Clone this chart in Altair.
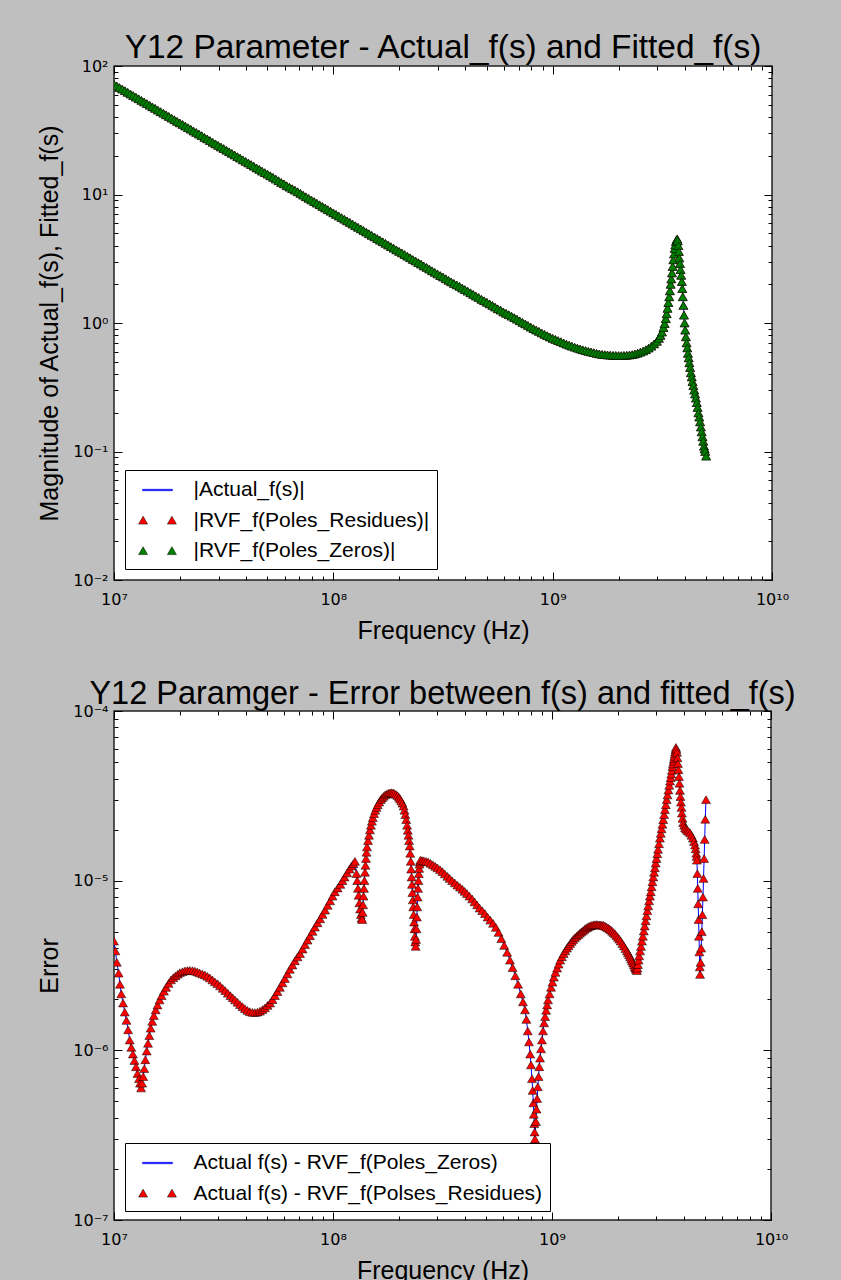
import json

import altair as alt
import pandas as pd

# ---------------------------------------------------------------------------
# Y12 magnitude panel: (frequency in MHz, |Y12|) readings
# ---------------------------------------------------------------------------
MAG_10_100MHZ = [
    (10.0, 72.0), (10.29, 70.0), (10.59, 68.0), (10.9, 66.1), (11.22, 64.2),
    (11.55, 62.4), (11.89, 60.6), (12.23, 58.9), (12.59, 57.2), (12.96, 55.6),
    (13.34, 54.0), (13.72, 52.5), (14.13, 51.0), (14.54, 49.5), (14.96, 48.1),
    (15.4, 46.8), (15.85, 45.4), (16.31, 44.1), (16.79, 42.9), (17.28, 41.7),
    (17.78, 40.5), (18.3, 39.3), (18.84, 38.2), (19.39, 37.1), (19.95, 36.1),
    (20.54, 35.1), (21.13, 34.1), (21.75, 33.1), (22.39, 32.2), (23.04, 31.2),
    (23.71, 30.4), (24.41, 29.5), (25.12, 28.7), (25.85, 27.8), (26.61, 27.1),
    (27.38, 26.3), (28.18, 25.5), (29.01, 24.8), (29.85, 24.1), (30.73, 23.4),
    (31.62, 22.8), (32.55, 22.1), (33.5, 21.5), (34.47, 20.9), (35.48, 20.3),
    (36.52, 19.7), (37.58, 19.2), (38.68, 18.6), (39.81, 18.1), (40.97, 17.6),
    (42.17, 17.1), (43.4, 16.6), (44.67, 16.1), (45.97, 15.7), (47.32, 15.2),
    (48.7, 14.8), (50.12, 14.4), (51.58, 14.0), (53.09, 13.6), (54.64, 13.2),
    (56.23, 12.8), (57.88, 12.4), (59.57, 12.1), (61.31, 11.7), (63.1, 11.4),
    (64.94, 11.1), (66.83, 10.8), (68.79, 10.5), (70.79, 10.2), (72.86, 9.88),
    (74.99, 9.6), (77.18, 9.33), (79.43, 9.06), (81.75, 8.81), (84.14, 8.56),
    (86.6, 8.32), (89.13, 8.08), (91.73, 7.85), (94.41, 7.62), (97.16, 7.41),
]
MAG_100_1000MHZ = [
    (100.0, 7.2), (102.9, 7.0), (105.9, 6.8), (109.0, 6.61), (112.2, 6.42),
    (115.5, 6.24), (118.9, 6.06), (122.3, 5.89), (125.9, 5.72), (129.6, 5.56),
    (133.4, 5.4), (137.2, 5.25), (141.3, 5.1), (145.4, 4.95), (149.6, 4.81),
    (154.0, 4.68), (158.5, 4.54), (163.1, 4.41), (167.9, 4.29), (172.8, 4.17),
    (177.8, 4.05), (183.0, 3.93), (188.4, 3.82), (193.9, 3.71), (199.5, 3.61),
    (205.4, 3.51), (211.3, 3.41), (217.5, 3.31), (223.9, 3.22), (230.4, 3.12),
    (237.1, 3.04), (244.1, 2.95), (251.2, 2.87), (258.5, 2.78), (266.1, 2.71),
    (273.8, 2.63), (281.8, 2.55), (290.1, 2.48), (298.5, 2.41), (307.3, 2.34),
    (316.2, 2.28), (325.5, 2.21), (335.0, 2.15), (344.7, 2.09), (354.8, 2.03),
    (365.2, 1.98), (375.8, 1.93), (386.8, 1.87), (398.1, 1.82), (409.7, 1.77),
    (421.7, 1.72), (434.0, 1.67), (446.7, 1.62), (459.7, 1.58), (473.2, 1.53),
    (487.0, 1.49), (501.2, 1.45), (515.8, 1.41), (530.9, 1.37), (546.4, 1.33),
    (562.3, 1.29), (578.8, 1.26), (595.7, 1.22), (613.1, 1.19), (631.0, 1.16),
    (649.4, 1.13), (668.3, 1.10), (687.9, 1.07), (707.9, 1.04), (728.6, 1.01),
    (749.9, 0.985), (771.8, 0.957), (794.3, 0.929), (817.5, 0.905), (841.4, 0.882),
    (866.0, 0.86), (891.3, 0.838), (917.3, 0.817), (944.1, 0.797), (971.6, 0.778),
]
MAG_1_3GHZ = [
    (1000, 0.76), (1029, 0.745), (1059, 0.73), (1090, 0.715), (1122, 0.70),
    (1155, 0.685), (1189, 0.672), (1223, 0.66), (1259, 0.649), (1296, 0.638),
    (1334, 0.628), (1372, 0.619), (1413, 0.61), (1454, 0.602), (1496, 0.595),
    (1540, 0.588), (1585, 0.581), (1631, 0.575), (1679, 0.57), (1728, 0.567),
    (1778, 0.564), (1830, 0.562), (1884, 0.56), (1939, 0.559), (1995, 0.558),
    (2054, 0.558), (2113, 0.559), (2175, 0.561), (2239, 0.564), (2304, 0.568),
    (2371, 0.574), (2441, 0.582), (2512, 0.593), (2585, 0.605), (2661, 0.62),
    (2738, 0.638), (2818, 0.66), (2901, 0.688), (2985, 0.72),
]
MAG_RESONANCE = [
    (3050, 0.76), (3100, 0.80), (3150, 0.85), (3200, 0.92), (3240, 0.99),
    (3280, 1.08), (3310, 1.18), (3340, 1.3), (3370, 1.44), (3400, 1.6),
    (3425, 1.78), (3450, 2.0), (3475, 2.2), (3500, 2.45), (3525, 2.75),
    (3550, 3.1), (3575, 3.45), (3600, 3.8), (3625, 4.05), (3650, 4.3),
    (3675, 4.45), (3700, 4.5), (3720, 4.35), (3740, 4.0), (3760, 3.6),
    (3780, 3.2), (3805, 2.9), (3830, 2.6), (3855, 2.35), (3880, 2.1),
    (3900, 1.85), (3920, 1.6), (3945, 1.37), (3970, 1.15), (3995, 1.0),
    (4020, 0.88), (4050, 0.78), (4080, 0.70), (4110, 0.64), (4140, 0.58),
    (4170, 0.535), (4200, 0.49), (4235, 0.45), (4270, 0.41), (4305, 0.38),
    (4340, 0.35), (4380, 0.325), (4420, 0.30), (4460, 0.28), (4500, 0.26),
    (4540, 0.24), (4580, 0.22), (4620, 0.20), (4660, 0.185), (4700, 0.17),
    (4740, 0.155), (4780, 0.142), (4820, 0.13), (4860, 0.12), (4900, 0.11),
    (4930, 0.105), (4960, 0.10), (5010, 0.092),
]

# ---------------------------------------------------------------------------
# Fit-error panel: (frequency in MHz, |f(s) - fitted_f(s)|) readings
# ---------------------------------------------------------------------------
ERR_10_126MHZ = [
    (10.0, 4.4e-6), (10.15, 3.85e-6), (10.3, 3.3e-6), (10.5, 2.85e-6), (10.65, 2.45e-6),
    (10.8, 2.15e-6), (11.0, 1.9e-6), (11.2, 1.68e-6), (11.4, 1.5e-6), (11.6, 1.32e-6),
    (11.8, 1.15e-6), (12.0, 1.04e-6), (12.2, 9.5e-7), (12.4, 8.7e-7), (12.6, 8.0e-7),
    (12.8, 7.3e-7), (13.0, 6.8e-7), (13.15, 6.4e-7), (13.3, 6.0e-7), (13.45, 6.4e-7),
    (13.6, 7.0e-7), (13.75, 7.8e-7), (13.9, 8.8e-7), (14.1, 9.9e-7), (14.3, 1.1e-6),
    (14.5, 1.22e-6), (14.7, 1.35e-6), (14.95, 1.48e-6), (15.2, 1.6e-6), (15.5, 1.73e-6),
    (15.8, 1.85e-6), (16.15, 1.98e-6), (16.5, 2.1e-6), (16.9, 2.23e-6), (17.3, 2.35e-6),
    (17.75, 2.48e-6), (18.2, 2.6e-6), (18.65, 2.68e-6), (19.1, 2.75e-6), (19.55, 2.81e-6),
    (20.0, 2.87e-6), (20.55, 2.91e-6), (21.1, 2.94e-6), (21.65, 2.955e-6), (22.2, 2.96e-6),
    (22.8, 2.95e-6), (23.4, 2.93e-6), (24.0, 2.9e-6), (24.6, 2.86e-6), (25.3, 2.82e-6),
    (26.0, 2.78e-6), (26.7, 2.73e-6), (27.4, 2.67e-6), (28.15, 2.6e-6), (28.9, 2.53e-6),
    (29.7, 2.47e-6), (30.5, 2.4e-6), (31.35, 2.32e-6), (32.2, 2.25e-6), (33.1, 2.17e-6),
    (34.0, 2.1e-6), (34.85, 2.04e-6), (35.7, 1.98e-6), (36.65, 1.92e-6), (37.6, 1.86e-6),
    (38.6, 1.81e-6), (39.6, 1.76e-6), (40.65, 1.72e-6), (41.7, 1.69e-6), (42.85, 1.675e-6),
    (44.0, 1.67e-6), (45.2, 1.68e-6), (46.4, 1.7e-6), (47.65, 1.74e-6), (48.9, 1.78e-6),
    (50.25, 1.84e-6), (51.6, 1.9e-6), (52.95, 1.99e-6), (54.3, 2.1e-6), (55.75, 2.22e-6),
    (57.2, 2.35e-6), (58.75, 2.5e-6), (60.3, 2.65e-6), (61.9, 2.82e-6), (63.5, 3.0e-6),
    (65.25, 3.18e-6), (67.0, 3.37e-6), (68.85, 3.55e-6), (70.7, 3.72e-6), (72.6, 3.95e-6),
    (74.5, 4.2e-6), (76.5, 4.46e-6), (78.5, 4.73e-6), (80.6, 5.02e-6), (82.7, 5.32e-6),
    (85.0, 5.64e-6), (87.3, 5.96e-6), (89.6, 6.32e-6), (92.0, 6.7e-6), (94.5, 7.15e-6),
    (97.0, 7.6e-6), (99.5, 8.1e-6), (102.0, 8.6e-6), (105.0, 9.05e-6), (108.0, 9.5e-6),
    (110.5, 1.0e-5), (113.0, 1.05e-5), (116.0, 1.11e-5), (119.0, 1.17e-5), (121.5, 1.22e-5),
    (124.0, 1.26e-5), (126.0, 1.3e-5),
]
ERR_128_250MHZ = [
    (128.0, 1.1e-5), (129.0, 1.0e-5), (130.0, 9.0e-6), (131.0, 8.2e-6), (132.0, 7.4e-6),
    (133.0, 6.8e-6), (134.0, 6.3e-6), (135.0, 6.0e-6), (136.0, 5.9e-6), (136.6, 6.5e-6),
    (137.2, 7.2e-6), (137.8, 8.1e-6), (138.5, 9.0e-6), (139.2, 1.0e-5), (140.0, 1.12e-5),
    (140.7, 1.23e-5), (141.5, 1.35e-5), (142.2, 1.47e-5), (143.0, 1.58e-5), (144.5, 1.72e-5),
    (146.0, 1.85e-5), (147.5, 1.99e-5), (149.0, 2.12e-5), (150.5, 2.24e-5), (152.0, 2.35e-5),
    (154.0, 2.48e-5), (156.0, 2.6e-5), (158.0, 2.7e-5), (160.0, 2.8e-5), (162.5, 2.9e-5),
    (165.0, 3.0e-5), (167.5, 3.07e-5), (170.0, 3.14e-5), (173.0, 3.2e-5), (176.0, 3.24e-5),
    (179.0, 3.27e-5), (182.0, 3.29e-5), (185.0, 3.3e-5), (188.0, 3.29e-5), (191.0, 3.26e-5),
    (194.0, 3.22e-5), (197.0, 3.17e-5), (200.0, 3.1e-5), (202.5, 3.03e-5), (205.0, 2.95e-5),
    (207.5, 2.86e-5), (210.0, 2.75e-5), (212.0, 2.6e-5), (214.0, 2.45e-5), (216.0, 2.29e-5),
    (218.0, 2.12e-5), (219.5, 1.98e-5), (221.0, 1.85e-5), (222.5, 1.72e-5), (224.0, 1.6e-5),
    (225.2, 1.45e-5), (226.5, 1.3e-5), (227.5, 1.17e-5), (228.5, 1.05e-5), (229.5, 9.5e-6),
    (230.5, 8.5e-6), (231.5, 7.7e-6), (232.5, 7.0e-6), (233.5, 6.3e-6), (234.5, 5.7e-6),
    (235.5, 5.2e-6), (236.5, 4.7e-6), (237.5, 4.35e-6), (238.5, 4.1e-6), (239.5, 4.5e-6),
    (240.5, 5.2e-6), (241.5, 6.1e-6), (242.5, 7.0e-6), (243.5, 8.0e-6), (244.5, 9.0e-6),
    (245.5, 1.0e-5), (246.5, 1.1e-5), (247.5, 1.18e-5), (248.5, 1.25e-5), (249.5, 1.29e-5),
    (250.5, 1.32e-5),
]
ERR_255_836MHZ = [
    (255, 1.315e-5), (260, 1.31e-5), (266, 1.3e-5), (272, 1.29e-5), (279, 1.265e-5),
    (286, 1.24e-5), (293, 1.215e-5), (300, 1.19e-5), (308, 1.16e-5), (316, 1.13e-5),
    (324, 1.095e-5), (333, 1.06e-5), (341, 1.03e-5), (350, 1.0e-5), (360, 9.7e-6),
    (370, 9.4e-6), (380, 9.15e-6), (390, 8.9e-6), (399, 8.65e-6), (409, 8.4e-6),
    (420, 8.1e-6), (432, 7.8e-6), (443, 7.5e-6), (455, 7.2e-6), (467, 6.9e-6),
    (480, 6.65e-6), (494, 6.4e-6), (508, 6.1e-6), (523, 5.85e-6), (538, 5.6e-6),
    (554, 5.3e-6), (570, 4.95e-6), (587, 4.55e-6), (605, 4.15e-6), (624, 3.78e-6),
    (643, 3.4e-6), (661, 3.07e-6), (680, 2.75e-6), (700, 2.45e-6), (720, 2.15e-6),
    (737, 1.93e-6), (753, 1.73e-6), (764, 1.52e-6), (775, 1.3e-6), (785, 1.12e-6),
    (795, 9.5e-7), (802, 8.2e-7), (810, 6.8e-7), (816, 5.8e-7), (822, 4.9e-7),
    (826, 4.2e-7), (830, 3.7e-7), (833, 3.3e-7), (836, 3.0e-7),
]
ERR_845_2440MHZ = [
    (845, 3.8e-7), (850, 4.5e-7), (855, 5.2e-7), (861, 6.1e-7), (868, 7.0e-7),
    (875, 8.0e-7), (882, 9.0e-7), (891, 1.02e-6), (900, 1.15e-6), (910, 1.3e-6),
    (920, 1.45e-6), (930, 1.58e-6), (940, 1.72e-6), (950, 1.85e-6), (959, 1.98e-6),
    (975, 2.15e-6), (990, 2.35e-6), (1005, 2.52e-6), (1020, 2.7e-6), (1037, 2.88e-6),
    (1055, 3.05e-6), (1072, 3.22e-6), (1090, 3.4e-6), (1110, 3.56e-6), (1130, 3.72e-6),
    (1150, 3.86e-6), (1170, 4.0e-6), (1190, 4.13e-6), (1210, 4.26e-6), (1230, 4.38e-6),
    (1250, 4.5e-6), (1272, 4.61e-6), (1295, 4.71e-6), (1318, 4.81e-6), (1340, 4.9e-6),
    (1362, 4.99e-6), (1385, 5.08e-6), (1408, 5.17e-6), (1430, 5.25e-6), (1452, 5.31e-6),
    (1475, 5.37e-6), (1498, 5.42e-6), (1520, 5.45e-6), (1545, 5.48e-6), (1570, 5.5e-6),
    (1595, 5.51e-6), (1620, 5.5e-6), (1645, 5.49e-6), (1670, 5.48e-6), (1695, 5.46e-6),
    (1720, 5.45e-6), (1747, 5.39e-6), (1774, 5.33e-6), (1802, 5.27e-6), (1830, 5.2e-6),
    (1857, 5.12e-6), (1884, 5.03e-6), (1912, 4.94e-6), (1940, 4.85e-6), (1970, 4.74e-6),
    (2000, 4.63e-6), (2030, 4.52e-6), (2060, 4.4e-6), (2095, 4.26e-6), (2130, 4.12e-6),
    (2165, 3.98e-6), (2200, 3.85e-6), (2225, 3.75e-6), (2250, 3.65e-6), (2275, 3.55e-6),
    (2300, 3.45e-6), (2322, 3.36e-6), (2345, 3.27e-6), (2368, 3.18e-6), (2390, 3.1e-6),
    (2405, 3.05e-6), (2420, 3.0e-6), (2440, 2.95e-6),
]
ERR_2455_5050MHZ = [
    (2455, 3.05e-6), (2470, 3.2e-6), (2485, 3.4e-6), (2500, 3.6e-6), (2525, 3.85e-6),
    (2550, 4.1e-6), (2575, 4.4e-6), (2600, 4.7e-6), (2625, 5.05e-6), (2650, 5.4e-6),
    (2675, 5.8e-6), (2700, 6.2e-6), (2725, 6.65e-6), (2750, 7.1e-6), (2775, 7.6e-6),
    (2800, 8.1e-6), (2825, 8.6e-6), (2850, 9.2e-6), (2875, 9.85e-6), (2900, 1.05e-5),
    (2925, 1.12e-5), (2950, 1.19e-5), (2975, 1.27e-5), (3000, 1.35e-5), (3025, 1.44e-5),
    (3050, 1.53e-5), (3080, 1.65e-5), (3110, 1.78e-5), (3138, 1.9e-5), (3165, 2.02e-5),
    (3192, 2.15e-5), (3220, 2.29e-5), (3250, 2.45e-5), (3280, 2.62e-5), (3310, 2.8e-5),
    (3340, 3.0e-5), (3370, 3.2e-5), (3400, 3.42e-5), (3430, 3.64e-5), (3460, 3.86e-5),
    (3483, 4.05e-5), (3505, 4.25e-5), (3528, 4.47e-5), (3550, 4.7e-5), (3568, 4.87e-5),
    (3585, 5.05e-5), (3603, 5.22e-5), (3620, 5.4e-5), (3635, 5.57e-5), (3650, 5.75e-5),
    (3665, 5.92e-5), (3680, 6.1e-5), (3700, 5.95e-5), (3720, 5.7e-5), (3740, 5.3e-5),
    (3760, 4.9e-5), (3780, 4.5e-5), (3800, 4.1e-5), (3820, 3.75e-5), (3840, 3.4e-5),
    (3860, 3.13e-5), (3880, 2.9e-5), (3900, 2.7e-5), (3920, 2.5e-5), (3945, 2.33e-5),
    (3970, 2.2e-5), (4010, 2.12e-5), (4050, 2.05e-5), (4100, 2.01e-5), (4150, 1.98e-5),
    (4210, 1.95e-5), (4270, 1.91e-5), (4335, 1.85e-5), (4400, 1.78e-5), (4450, 1.7e-5),
    (4500, 1.62e-5), (4530, 1.54e-5), (4560, 1.45e-5), (4575, 1.39e-5), (4590, 1.32e-5),
    (4610, 1.1e-5), (4630, 9.0e-6), (4650, 7.3e-6), (4670, 5.9e-6), (4690, 4.7e-6),
    (4710, 3.8e-6), (4730, 3.1e-6), (4745, 2.8e-6), (4770, 3.3e-6), (4800, 4.0e-6),
    (4830, 5.0e-6), (4860, 6.3e-6), (4890, 8.0e-6), (4920, 1.03e-5), (4950, 1.35e-5),
    (4980, 1.75e-5), (5010, 2.3e-5), (5050, 3.0e-5),
]

SERIES_MAG = ["|Actual_f(s)|", "|RVF_f(Poles_Residues)|", "|RVF_f(Poles_Zeros)|"]
SERIES_ERR = ["Actual f(s) - RVF_f(Poles_Zeros)", "Actual f(s) - RVF_f(Polses_Residues)"]

X_MAJOR = [1e7, 1e8, 1e9, 1e10]
X_LABELS = ["10⁷", "10⁸", "10⁹", "10¹⁰"]
Y_MAG_MAJOR = [1e-2, 1e-1, 1e0, 1e1, 1e2]
Y_MAG_LABELS = ["10⁻²", "10⁻¹", "10⁰", "10¹", "10²"]
Y_ERR_MAJOR = [1e-7, 1e-6, 1e-5, 1e-4]
Y_ERR_LABELS = ["10⁻⁷", "10⁻⁶", "10⁻⁵", "10⁻⁴"]

BLUE, RED, GREEN = "#0000ff", "#ff0000", "#008000"
GREY_BG = "#bfbfbf"
TITLE_FONT = "Liberation Sans"
TICK_FONT = "DejaVu Sans"

# legend glyphs: a short line, and a pair of markers (numpoints=2)
LINE_GLYPH = "M-1.25,-0.06L1.25,-0.06L1.25,0.06L-1.25,0.06Z"
PAIR_GLYPH = ("M-1.575,0.3L-1.2,-0.36L-0.825,0.3Z"
              "M0.825,0.3L1.2,-0.36L1.575,0.3Z")


def minor_ticks(majors):
    return [m * a for a in majors[:-1] for m in range(2, 10)]


def tick_size(majors):
    # negative length turns the ticks inward, majors longer than minors
    arr = json.dumps(majors)
    return {"expr": f"indexof({arr}, datum.value) >= 0 ? -8 : -4"}


def label_expr(majors, labels):
    arr = json.dumps(majors)
    labs = json.dumps(labels, ensure_ascii=False)
    return f"indexof({arr}, datum.value) >= 0 ? {labs}[indexof({arr}, datum.value)] : ''"


def main_x_axis(title):
    return alt.Axis(orient="bottom", values=X_MAJOR + minor_ticks(X_MAJOR),
                    tickSize=tick_size(X_MAJOR), labelExpr=label_expr(X_MAJOR, X_LABELS),
                    labelPadding=19, labelFlush=False, labelOverlap=False,
                    title=title, titleY=38)


def mirror_x_axis():
    return alt.Axis(orient="top", values=X_MAJOR + minor_ticks(X_MAJOR),
                    tickSize=tick_size(X_MAJOR), labels=False, title=None, minExtent=0)


def main_y_axis(majors, labels, title):
    return alt.Axis(orient="left", values=majors + minor_ticks(majors),
                    tickSize=tick_size(majors), labelExpr=label_expr(majors, labels),
                    labelPadding=14, labelOverlap=False, labelFlush=False,
                    title=title, titleX=-65, titleBaseline="middle")


def mirror_y_axis(majors):
    return alt.Axis(orient="right", values=majors + minor_ticks(majors),
                    tickSize=tick_size(majors), labels=False, title=None, minExtent=0)


def legend(x, y):
    return alt.Legend(title=None, orient="none", legendX=x, legendY=y,
                      fillColor="white", strokeColor="black", cornerRadius=0,
                      padding=7.5, rowPadding=7.5, symbolSize=576, symbolStrokeWidth=0.5,
                      symbolOffset=12.5, labelOffset=23.5, labelFont=TITLE_FONT,
                      labelFontSize=21, labelColor="black", labelLimit=600)


def panel_title(text, size, gap):
    return alt.TitleParams(text, font=TITLE_FONT, fontSize=size, fontWeight="normal",
                           color="black", anchor="middle", frame="group",
                           baseline="alphabetic", offset=gap)


X_SCALE = alt.Scale(type="log", domain=[1e7, 1e10], nice=False)
Y_MAG_SCALE = alt.Scale(type="log", domain=[1e-2, 1e2], nice=False)
Y_ERR_SCALE = alt.Scale(type="log", domain=[1e-7, 1e-4], nice=False)

TRIANGLE = dict(shape="triangle-up", filled=True, stroke="black", strokeWidth=0.5,
                size=80, opacity=1, clip=True)

# ---------------------------------------------------------------------------
# Magnitude panel
# ---------------------------------------------------------------------------
mag_rows = MAG_10_100MHZ + MAG_100_1000MHZ + MAG_1_3GHZ + MAG_RESONANCE
mag_df = pd.DataFrame({
    "f": [mhz * 1e6 for mhz, _ in mag_rows],
    "actual": [v for _, v in mag_rows],
})
# both rational fits sit on top of the measured curve
mag_df["residues"] = mag_df["actual"]
mag_df["zeros"] = mag_df["actual"]
mag_key = pd.DataFrame({"series": SERIES_MAG, "f": [None] * 3, "actual": [None] * 3})

mag_line = alt.Chart(mag_df).mark_line(color=BLUE, strokeWidth=1, clip=True).encode(
    x=alt.X("f:Q", scale=X_SCALE, axis=main_x_axis("Frequency (Hz)")),
    y=alt.Y("actual:Q", scale=Y_MAG_SCALE,
            axis=main_y_axis(Y_MAG_MAJOR, Y_MAG_LABELS, "Magnitude of Actual_f(s), Fitted_f(s)")),
)
mag_res = alt.Chart(mag_df).mark_point(fill=RED, **TRIANGLE).encode(
    x=alt.X("f:Q", scale=X_SCALE, axis=mirror_x_axis()),
    y=alt.Y("residues:Q", scale=Y_MAG_SCALE, axis=mirror_y_axis(Y_MAG_MAJOR)),
)
mag_zero = alt.Chart(mag_df).mark_point(fill=GREEN, **TRIANGLE).encode(
    x=alt.X("f:Q", scale=X_SCALE, axis=None),
    y=alt.Y("zeros:Q", scale=Y_MAG_SCALE, axis=None),
)
mag_leg = legend(11, 404)
mag_key_layer = alt.Chart(mag_key).mark_point(filled=True, strokeWidth=0.5, opacity=1, clip=True).encode(
    x=alt.X("f:Q", scale=X_SCALE, axis=None),
    y=alt.Y("actual:Q", scale=Y_MAG_SCALE, axis=None),
    color=alt.Color("series:N", scale=alt.Scale(domain=SERIES_MAG, range=[BLUE, RED, GREEN]), legend=mag_leg),
    shape=alt.Shape("series:N", scale=alt.Scale(domain=SERIES_MAG, range=[LINE_GLYPH, PAIR_GLYPH, PAIR_GLYPH]), legend=mag_leg),
    stroke=alt.Stroke("series:N", scale=alt.Scale(domain=SERIES_MAG, range=[BLUE, "black", "black"]), legend=mag_leg),
)

mag_panel = alt.layer(mag_line, mag_res, mag_zero, mag_key_layer).resolve_axis(
    x="independent", y="independent"
).properties(
    width=658, height=514,
    title=panel_title("Y12 Parameter - Actual_f(s) and Fitted_f(s)", 33.4, -33),
)

# ---------------------------------------------------------------------------
# Error panel
# ---------------------------------------------------------------------------
err_rows = ERR_10_126MHZ + ERR_128_250MHZ + ERR_255_836MHZ + ERR_845_2440MHZ + ERR_2455_5050MHZ
err_df = pd.DataFrame({
    "f": [mhz * 1e6 for mhz, _ in err_rows],
    "zeros": [v for _, v in err_rows],
})
err_df["residues"] = err_df["zeros"]
err_key = pd.DataFrame({"series": SERIES_ERR, "f": [None] * 2, "zeros": [None] * 2})

err_line = alt.Chart(err_df).mark_line(color=BLUE, strokeWidth=1, clip=True).encode(
    x=alt.X("f:Q", scale=X_SCALE, axis=main_x_axis("Frequency (Hz)")),
    y=alt.Y("zeros:Q", scale=Y_ERR_SCALE, axis=main_y_axis(Y_ERR_MAJOR, Y_ERR_LABELS, "Error")),
)
err_res = alt.Chart(err_df).mark_point(fill=RED, **TRIANGLE).encode(
    x=alt.X("f:Q", scale=X_SCALE, axis=mirror_x_axis()),
    y=alt.Y("residues:Q", scale=Y_ERR_SCALE, axis=mirror_y_axis(Y_ERR_MAJOR)),
)
err_leg = legend(11, 432)
err_key_layer = alt.Chart(err_key).mark_point(filled=True, strokeWidth=0.5, opacity=1, clip=True).encode(
    x=alt.X("f:Q", scale=X_SCALE, axis=None),
    y=alt.Y("zeros:Q", scale=Y_ERR_SCALE, axis=None),
    color=alt.Color("series:N", scale=alt.Scale(domain=SERIES_ERR, range=[BLUE, RED]), legend=err_leg),
    shape=alt.Shape("series:N", scale=alt.Scale(domain=SERIES_ERR, range=[LINE_GLYPH, PAIR_GLYPH]), legend=err_leg),
    stroke=alt.Stroke("series:N", scale=alt.Scale(domain=SERIES_ERR, range=[BLUE, "black"]), legend=err_leg),
)

err_panel = alt.layer(err_line, err_res, err_key_layer).resolve_axis(
    x="independent", y="independent"
).properties(
    width=657, height=509,
    title=panel_title("Y12 Paramger - Error between f(s) and fitted_f(s)", 32.5, -33),
)

chart = alt.vconcat(mag_panel, err_panel, spacing=32).resolve_scale(
    x="independent", y="independent", color="independent", shape="independent", stroke="independent"
).resolve_legend(
    color="independent", shape="independent", stroke="independent"
).properties(
    padding={"left": 36, "top": 29, "right": 44, "bottom": 0},
    background=GREY_BG,
).configure_view(
    fill="white", stroke="#222222", strokeWidth=1.5,
).configure_axis(
    labelFont=TICK_FONT, labelFontSize=16, labelColor="black",
    titleFont=TITLE_FONT, titleFontSize=25, titleFontWeight="normal", titleColor="black",
    tickColor="black", tickWidth=1, domain=False, grid=False,
)

chart.save("out.html", embed_options={"renderer": "svg", "actions": False})
